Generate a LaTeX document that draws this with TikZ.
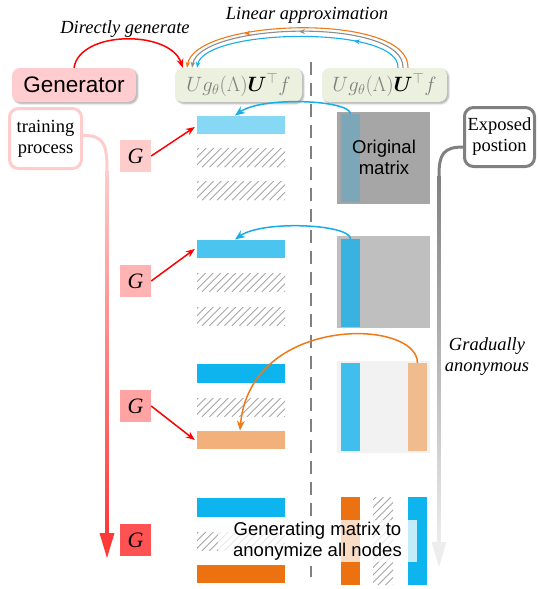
\documentclass[tikz,border=0pt]{standalone}
\usepackage{amsmath}
\usepackage[no-math]{fontspec}
\setmainfont{Liberation Serif}
\setsansfont{Liberation Sans}
\usetikzlibrary{arrows.meta,shadows.blur,decorations.markings,calc}
\definecolor{gpink}{HTML}{FFCDD0}
\definecolor{fgreen}{HTML}{EBF1DE}
\definecolor{mgrey}{HTML}{808080}
\definecolor{arcorange}{HTML}{EE7A1A}
\definecolor{arcblue}{HTML}{16AEE8}
\definecolor{arcgrey}{HTML}{8C8C8C}
\definecolor{bblueA}{HTML}{87D8F5}
\definecolor{bblueB}{HTML}{4BC5F0}
\definecolor{bblue}{HTML}{0EB4EE}
\definecolor{borangeA}{HTML}{F2B07A}
\definecolor{borange}{HTML}{EC7211}
\definecolor{matA}{HTML}{A6A6A6}
\definecolor{matAs}{HTML}{7BA7B8}
\definecolor{matB}{HTML}{BFBFBF}
\definecolor{matBs}{HTML}{38B3E0}
\definecolor{matC}{HTML}{F2F2F2}
\definecolor{matCs}{HTML}{40BEEC}
\definecolor{matCo}{HTML}{F0BB8D}
\definecolor{gA}{HTML}{FFCCCC}
\definecolor{gB}{HTML}{FFB3B3}
\definecolor{gC}{HTML}{FFA3A3}
\definecolor{gD}{HTML}{FF5252}
\definecolor{trainpink}{HTML}{FFCCCC}
\definecolor{redflow}{HTML}{FF3838}
\definecolor{expgrey}{HTML}{808080}
\definecolor{expgreyB}{HTML}{EDEDED}
\definecolor{hatchgrey}{HTML}{A6A6A6}
\tikzset{
  txt/.style={font=\fontsize{18.5}{21}\selectfont, align=center, inner sep=0pt},
  sanstxt/.style={font=\sffamily\fontsize{18.5}{21}\selectfont, align=center, inner sep=0pt},
  itxt/.style={font=\itshape\fontsize{18.5}{21}\selectfont, align=center, inner sep=0pt},
  bar/.style={inner sep=0pt, minimum width=88pt, minimum height=18.5pt},
  vstrip/.style={inner sep=0pt, minimum width=19pt, minimum height=88pt},
  matbox/.style={inner sep=0pt, minimum width=93pt, minimum height=92pt},
  gbox/.style={inner sep=0pt, minimum width=31pt, minimum height=32pt, font=\itshape\fontsize{22}{24}\selectfont},
  fbox/.style={fill=fgreen, rounded corners=8pt, minimum height=34pt, inner sep=0pt,
     text=mgrey, font=\fontsize{20.74}{24}\selectfont,
     blur shadow={shadow blur steps=6, shadow xshift=1.5pt, shadow yshift=-1.5pt, shadow opacity=35}},
  hatch/.style={inner sep=0pt, path picture={
     \foreach \k in {-100,-92.5,...,100}{
       \draw[hatchgrey, line width=0.8pt] ([xshift=\k pt]path picture bounding box.south west) -- ++(100pt,100pt);}}},
  redarrow/.style={red, line width=1.5pt, -{Stealth[length=9pt,width=7pt]}},
  arcline/.style={line width=1.1pt, -{Stealth[length=6pt,width=4.5pt]}},
  midarrow/.style={postaction={decorate}, decoration={markings, mark=at position #1 with {\arrow{Stealth[length=6pt,width=5pt]}}}},
  bluearrow/.style={arcblue, line width=1.5pt, -{Stealth[length=10pt,width=8pt]}}
}
\begin{document}
\begin{tikzpicture}[x=1pt,y=-1pt]
\useasboundingbox (0,0) rectangle (538,589);

% dashed separator
\coordinate (dtop) at (311,62);
\coordinate (dbot) at (311,577);
\draw[mgrey, line width=1.5pt, dash pattern=on 13pt off 8pt] (dtop) -- (dbot);

% top texts
\node[itxt] (dg) at (125,29) {Directly generate};
\node[itxt] (la) at (307,15) {Linear approximation};

% generator and formula boxes
\node[fill=gpink, rounded corners=8pt, minimum width=124pt, minimum height=34pt, inner sep=0pt,
      font=\sffamily\fontsize{22.5}{26}\selectfont,
      blur shadow={shadow blur steps=6, shadow xshift=1.5pt, shadow yshift=-1.5pt, shadow opacity=35}]
      (gen) at (74,85) {Generator};
\node[fbox, minimum width=127pt] (f1) at (238.5,85) {$Ug_\theta(\Lambda)\textcolor{black}{\boldsymbol{U}}^{\top} f$};
\node[fbox, minimum width=125pt] (f2) at (384.5,85) {$Ug_\theta(\Lambda)\textcolor{black}{\boldsymbol{U}}^{\top} f$};

\draw[redarrow] (gen.north) .. controls (80,30) and (170,30) .. ([xshift=8pt]f1.north west);

% linear approximation arcs
\draw[arcorange, arcline, midarrow=0.72] ([xshift=23.5pt]f2.north) .. controls (410,12) and (195,18) .. ([xshift=-51.5pt]f1.north);
\draw[arcgrey, arcline, midarrow=0.5] ([xshift=18.5pt]f2.north) .. controls (405,17) and (200,22) .. ([xshift=-46.5pt]f1.north);
\draw[arcblue, arcline, midarrow=0.25] ([xshift=13.5pt]f2.north) .. controls (400,25) and (205,28) .. ([xshift=-41.5pt]f1.north);

% side boxes
\node[txt, draw=trainpink, line width=3pt, rounded corners=9pt, fill=white, minimum width=72pt, minimum height=60pt] (train) at (45.5,138.5) {training\\process};
\node[txt, draw=expgrey, line width=3pt, rounded corners=9pt, fill=white, minimum width=70pt, minimum height=59pt] (expo) at (499.5,137) {Exposed\\postion};

% training flow arrow
\coordinate (tdown) at (107,170);
\coordinate (tend) at (107,558);
\draw[trainpink, line width=3pt] ([yshift=3pt]train.east) .. controls (104,135) and (107,145) .. (tdown);
\shade[top color=trainpink, bottom color=redflow] (105.5,170) rectangle (108.5,536);
\fill[redflow] (99.5,533) -- (114.5,533) -- (tend) -- cycle;

% exposed flow arrow
\coordinate (edown) at (439,175);
\coordinate (eend) at (439,567);
\draw[expgrey, line width=3pt] ([yshift=-10pt]expo.west) .. controls (443,147) and (439,155) .. (edown);
\shade[top color=expgrey, bottom color=expgreyB] (437.5,175) rectangle (440.5,545);
\fill[expgreyB] (431.5,542) -- (446.5,542) -- (eend) -- cycle;

\node[itxt] (ga) at (487,357) {Gradually\\anonymous};

% G boxes
\node[gbox, fill=gA] (G1) at (135.5,156) {G};
\node[gbox, fill=gB] (G2) at (135.5,281) {G};
\node[gbox, fill=gC] (G3) at (135.5,406) {G};
\node[gbox, fill=gD] (G4) at (135.5,540) {G};

% row 1
\node[bar, fill=bblueA] (b1) at (241,125) {};
\node[bar, hatch] (h1a) at (241,158) {};
\node[bar, hatch] (h1b) at (241,191) {};
\node[matbox, fill=matA] (M1) at (383.5,158) {};
\node[vstrip, fill=matAs] (s1) at (350.5,158) {};
\node[sanstxt] (omt) at (384,157) {Original\\matrix};

% row 2
\node[bar, fill=bblueB] (b2) at (241,249) {};
\node[bar, hatch] (h2a) at (241,282.5) {};
\node[bar, hatch] (h2b) at (241,316.5) {};
\node[matbox, fill=matB] (M2) at (383.5,282) {};
\node[vstrip, fill=matBs] (s2) at (350.5,283) {};

% row 3
\node[bar, fill=bblue] (b3) at (241,373.5) {};
\node[bar, hatch] (h3) at (241,407.5) {};
\node[bar, fill=borangeA] (o3b) at (241,440) {};
\node[matbox, fill=matC] (M3) at (383.5,407) {};
\node[vstrip, fill=matCs] (s3) at (350.5,407) {};
\node[vstrip, fill=matCo] (o3) at (417.5,407) {};

% row 4
\node[bar, fill=bblue] (b4) at (241,507.5) {};
\node[bar, hatch] (h4b) at (241,541.5) {};
\node[bar, fill=borange] (o4b) at (241,574) {};
\node[vstrip, fill=borange] (o4) at (350.5,541) {};
\node[vstrip, minimum width=20pt, hatch] (h4) at (383,541) {};
\node[vstrip, fill=bblue] (s4) at (417.5,541) {};
\node[sanstxt, fill=white, fill opacity=0.75, text opacity=1, minimum width=199pt, minimum height=42pt] (gm) at (317.5,541) {Generating matrix to\\anonymize all nodes};

% generator arrows
\draw[redarrow] (G1.east) -- ([xshift=-2pt,yshift=-2pt]b1.west);
\draw[redarrow] (G2.east) -- ([xshift=-2pt]b2.west);
\draw[redarrow] (G3.east) -- ([xshift=-2pt]o3b.west);

% matrix to bar arrows
\draw[bluearrow] (s1.north) .. controls (350,100) and (262,96) .. ([xshift=-6pt]b1.north);
\draw[bluearrow] (s2.north) .. controls (350,224) and (262,220) .. ([xshift=-6pt]b2.north);
\draw[arcorange, line width=1.5pt, -{Stealth[length=10pt,width=8pt]}] (o3.north) .. controls (417,318) and (250,315) .. ([xshift=-1pt]o3b.north);
\end{tikzpicture}
\end{document}
